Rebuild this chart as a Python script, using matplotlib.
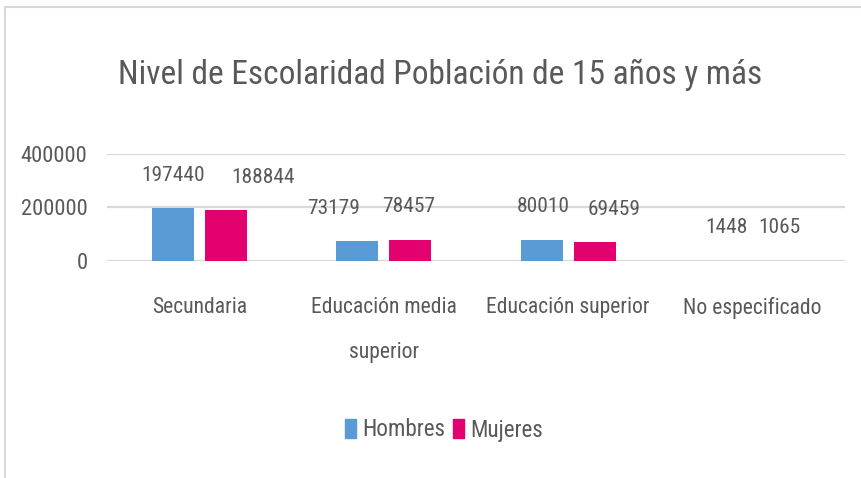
import numpy as np
import matplotlib.pyplot as plt
from matplotlib.patches import Patch
from matplotlib.lines import Line2D

# data
categories = ['Secundaria', 'Educación media\nsuperior', 'Educación superior', 'No especificado']
hombres = [197440, 73179, 80010, 1448]
mujeres = [188844, 78457, 69459, 1065]
yticks = [0, 200000, 400000]

# label nudges (points) as placed in the original
dx_hombres = [0, -17, 1, 0]
dx_mujeres = [27, -1, 14, 0]

FONT = ['Roboto Condensed', 'DejaVu Sans']
plt.rcParams['font.family'] = FONT
plt.rcParams['font.stretch'] = 'condensed'
gray = '#595959'
blue = '#5B9BD5'
pink = '#E3006F'

fig = plt.figure(figsize=(8.61, 4.78), dpi=100)
ax = fig.add_axes([107/861, 1-261/478, 738/861, 107/478])

x = np.arange(len(categories))
w = 0.228
off = 0.143
b1 = ax.bar(x-off, hombres, w, color=blue, zorder=3)
b2 = ax.bar(x+off, mujeres, w, color=pink, zorder=3)

for bars, vals, dxs in ((b1, hombres, dx_hombres), (b2, mujeres, dx_mujeres)):
    for r, v, d in zip(bars, vals, dxs):
        ax.annotate(str(v), (r.get_x()+r.get_width()/2, v), xytext=(d, 17),
                    textcoords='offset points', ha='center', va='bottom',
                    fontsize=15.4, color=gray)

ax.set_xlim(-0.5, 3.5)
ax.set_ylim(0, 400000)
ax.set_yticks(yticks)
ax.set_yticklabels([str(t) for t in yticks], fontsize=16.2, color=gray)
ax.set_xticks(x)
ax.set_xticklabels(categories, fontsize=15.6, color=gray, linespacing=2.5, va='top')
ax.tick_params(axis='both', length=0)
ax.tick_params(axis='y', pad=14)
ax.tick_params(axis='x', pad=26)
ax.grid(axis='y', color='#D9D9D9', linewidth=1.6, zorder=0)
for s in ax.spines.values():
    s.set_visible(False)

fig.text(440/861, 1-75/478, 'Nivel de Escolaridad Población de 15 años y más',
         ha='center', va='center', fontsize=24, color=gray)

handles = [Patch(color=blue, label='Hombres'), Patch(color=pink, label='Mujeres')]
fig.legend(handles=handles, loc='center', bbox_to_anchor=(444/861, 1-430/478), ncol=2,
           frameon=False, fontsize=16.7, labelcolor=gray, handlelength=0.48,
           handleheight=0.87, handletextpad=0.25, columnspacing=0.35)

# chart border
fig.add_artist(Line2D([5/861, 1], [1-7/478, 1-7/478], color='#D9D9D9', linewidth=1.5))
fig.add_artist(Line2D([5/861, 5/861], [0, 1-7/478], color='#D9D9D9', linewidth=1.5))

fig.savefig('out.png', dpi=100)
